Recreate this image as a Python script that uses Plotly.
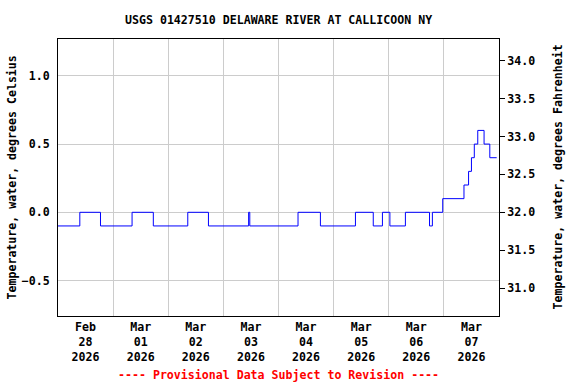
import plotly.graph_objects as go
from datetime import datetime, timedelta

# Change points of the gage record (time, degrees Celsius)
times = [
    "2026-02-28 00:00", "2026-02-28 09:30", "2026-02-28 18:30",
    "2026-03-01 08:15", "2026-03-01 17:30",
    "2026-03-02 08:30", "2026-03-02 17:30",
    "2026-03-03 11:00", "2026-03-03 11:30",
    "2026-03-04 08:30", "2026-03-04 18:15",
    "2026-03-05 09:30", "2026-03-05 17:15", "2026-03-05 21:15",
    "2026-03-06 00:30", "2026-03-06 07:15", "2026-03-06 17:45",
    "2026-03-06 19:00", "2026-03-06 23:30",
    "2026-03-07 08:45", "2026-03-07 10:45", "2026-03-07 12:00",
    "2026-03-07 13:15", "2026-03-07 14:45", "2026-03-07 17:30",
    "2026-03-07 20:00", "2026-03-07 23:00",
]
temp_c = [
    -0.1, 0.0, -0.1,
    0.0, -0.1,
    0.0, -0.1,
    0.0, -0.1,
    0.0, -0.1,
    0.0, -0.1, 0.0,
    -0.1, 0.0, -0.1,
    0.0, 0.1,
    0.2, 0.3, 0.4,
    0.5, 0.6, 0.5,
    0.4, 0.4,
]

day_starts = ["2026-02-28", "2026-03-01", "2026-03-02", "2026-03-03",
              "2026-03-04", "2026-03-05", "2026-03-06", "2026-03-07",
              "2026-03-08"]
tick_labels = ["Feb<br>28<br>2026", "Mar<br>01<br>2026", "Mar<br>02<br>2026",
               "Mar<br>03<br>2026", "Mar<br>04<br>2026", "Mar<br>05<br>2026",
               "Mar<br>06<br>2026", "Mar<br>07<br>2026"]
c_ticks = [-0.5, 0.0, 0.5, 1.0]
f_ticks = [31.0, 31.5, 32.0, 32.5, 33.0, 33.5, 34.0]
c_range = [-0.76, 1.27]

title = "USGS 01427510 DELAWARE RIVER AT CALLICOON NY"
ylab_left = "Temperature, water, degrees Celsius"
ylab_right = "Temperature, water, degrees Fahrenheit"
footer = "---- Provisional Data Subject to Revision ----"

noon_ticks = [(datetime.fromisoformat(d) + timedelta(hours=12)).strftime("%Y-%m-%d %H:%M")
              for d in day_starts[:-1]]
f_range = [c * 1.8 + 32 for c in c_range]
temp_f = [c * 1.8 + 32 for c in temp_c]

FONT = "DejaVu Sans Mono"
SIZE = 11.6
fnt = dict(family=FONT, size=SIZE, color="black", weight="bold")

fig = go.Figure()
fig.add_trace(go.Scatter(x=times, y=temp_c, mode="lines", line_shape="hv",
                         line=dict(color="#0000ff", width=1), showlegend=False,
                         hoverinfo="skip"))
fig.add_trace(go.Scatter(x=times, y=temp_f, mode="lines", line_shape="hv",
                         line=dict(color="rgba(0,0,0,0)", width=0), yaxis="y2",
                         showlegend=False, hoverinfo="skip"))

fig.update_layout(
    width=576, height=384,
    margin=dict(l=58, r=77, t=39, b=68, autoexpand=False),
    paper_bgcolor="white", plot_bgcolor="white",
    font=fnt,
    xaxis=dict(
        range=[day_starts[0], day_starts[-1]],
        tickvals=noon_ticks, ticktext=tick_labels,
        showgrid=False, ticks="", tickfont=fnt,
        showline=True, linecolor="black", linewidth=1, mirror=True,
        minor=dict(tickvals=day_starts, showgrid=True, gridcolor="#cccccc",
                   gridwidth=1, ticks=""),
        zeroline=False, automargin=False,
    ),
    yaxis=dict(
        range=c_range, tickvals=c_ticks, tickformat=".1f",
        showgrid=True, gridcolor="#cccccc", gridwidth=1,
        ticks="outside", ticklen=5, tickcolor="rgba(0,0,0,0)",
        tickfont=fnt, zeroline=False, automargin=False,
        showline=True, linecolor="black", linewidth=1, mirror=True,
    ),
    yaxis2=dict(
        range=f_range, tickvals=f_ticks, tickformat=".1f",
        overlaying="y", side="right", showgrid=False, zeroline=False,
        ticks="outside", ticklen=5, tickcolor="black", tickfont=fnt,
        showline=True, linecolor="black", linewidth=1, automargin=False,
    ),
    annotations=[
        dict(text=title, xref="paper", yref="paper", x=0.5, y=1 + 19 / 277,
             xanchor="center", yanchor="middle", showarrow=False, font=fnt),
        dict(text=ylab_left, xref="paper", yref="paper", x=(11 - 58) / 441, y=0.5,
             textangle=-90, xanchor="center", yanchor="middle", showarrow=False,
             font=fnt),
        dict(text=ylab_right, xref="paper", yref="paper", x=(557 - 58) / 441, y=0.5,
             textangle=-90, xanchor="center", yanchor="middle", showarrow=False,
             font=fnt),
        dict(text=footer, xref="paper", yref="paper", x=0.5, y=-59 / 277,
             xanchor="center", yanchor="middle", showarrow=False,
             font=dict(family=FONT, size=SIZE, color="red", weight="bold")),
    ],
)

fig.write_html("out.html", config={"displayModeBar": False},
               post_script="document.body.style.margin='0';document.body.style.padding='0';")
